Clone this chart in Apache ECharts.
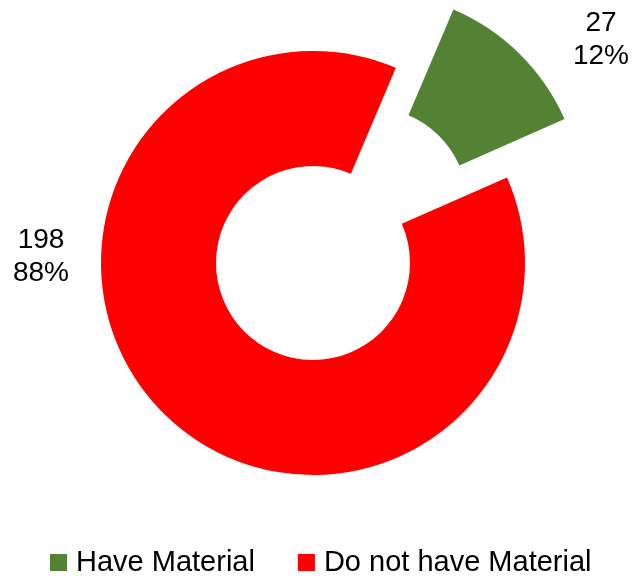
<!DOCTYPE html>
<html>
<head>
<meta charset="utf-8">
<script src="https://cdn.jsdelivr.net/npm/echarts@6/dist/echarts.min.js"></script>
<style>
  html, body { margin: 0; padding: 0; background: #fff; }
  #chart { width: 633px; height: 576px; }
</style>
</head>
<body>
<div id="chart"></div>
<script>
// Survey responses: who has the material and who does not
const categories = ['Have Material', 'Do not have Material'];
const counts = [27, 198];
const sliceColors = ['#548235', '#FF0000'];

// Anchor points for the two value labels (pixel layout, not data)
const labelAnchors = [
  { x: 601, y: 40 },
  { x: 41, y: 257 }
];

const FONT = '"Liberation Sans", Arial, sans-serif';

const total = counts.reduce(function (s, v) { return s + v; }, 0);

// "count\npercent" labels, one per slice
const valueLabels = categories.map(function (name, i) {
  const pct = Math.round(counts[i] / total * 100);
  return {
    type: 'text',
    x: labelAnchors[i].x,
    y: labelAnchors[i].y,
    silent: true,
    style: {
      text: counts[i] + '\n' + pct + '%',
      fontFamily: FONT,
      fontSize: 28,
      lineHeight: 33,
      fill: '#000000',
      align: 'center',
      verticalAlign: 'middle'
    }
  };
});

const chart = echarts.init(document.getElementById('chart'), null, { renderer: 'canvas' });

chart.setOption({
  animation: false,
  backgroundColor: '#ffffff',
  graphic: valueLabels,
  legend: {
    data: categories,
    left: 50,
    top: 548,
    padding: 0,
    icon: 'rect',
    itemWidth: 17,
    itemHeight: 17,
    itemGap: 43,
    selectedMode: false,
    textStyle: {
      fontFamily: FONT,
      fontSize: 29,
      color: '#000000',
      padding: [0, 0, 0, 4]
    }
  },
  series: [{
    type: 'pie',
    center: [313, 263],
    radius: [97, 212],
    startAngle: 67,
    clockwise: true,
    selectedMode: 'single',
    selectedOffset: 82,
    emphasis: { disabled: true },
    label: { show: false },
    labelLine: { show: false },
    data: categories.map(function (name, i) {
      return {
        name: name,
        value: counts[i],
        selected: i === 0,
        itemStyle: { color: sliceColors[i] }
      };
    })
  }]
});
</script>
</body>
</html>
